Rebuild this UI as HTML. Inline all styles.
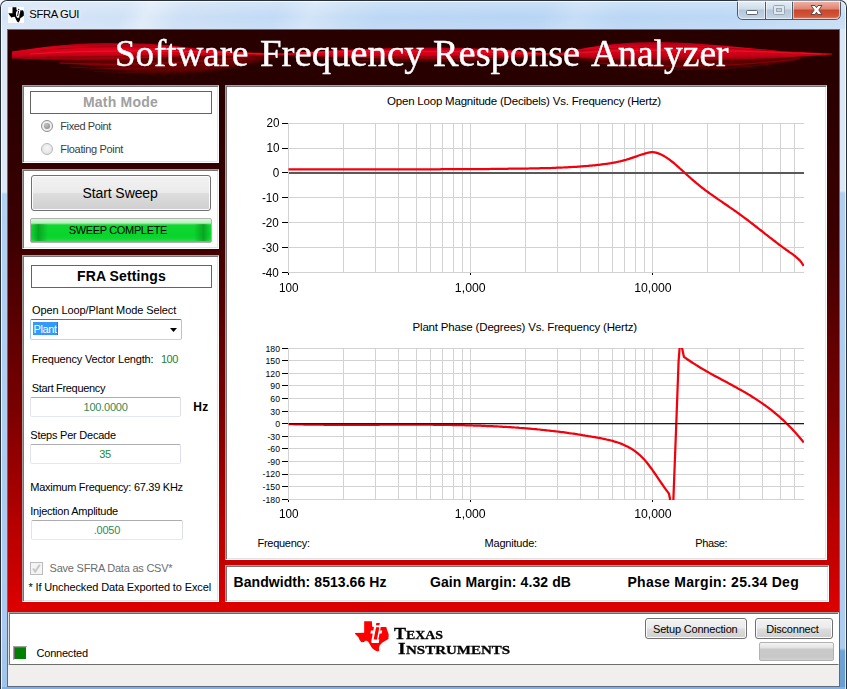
<!DOCTYPE html>
<html>
<head>
<meta charset="utf-8">
<title>SFRA GUI</title>
<style>
html,body{margin:0;padding:0;}
body{width:847px;height:689px;overflow:hidden;position:relative;background:#f4f6f9;font-family:"Liberation Sans",sans-serif;font-size:11px;color:#000;}
.abs{position:absolute;}
.lbl{position:absolute;white-space:nowrap;}
#win{position:absolute;left:0;top:0;width:845px;height:688px;border:1px solid #27313d;border-bottom:none;border-radius:7px 7px 0 0;overflow:hidden;
 background:linear-gradient(180deg,rgba(255,255,255,.28) 0,rgba(255,255,255,.1) 10px,rgba(255,255,255,0) 16px,rgba(255,255,255,.1) 29px,rgba(255,255,255,0) 30px),
 linear-gradient(115deg,rgba(255,255,255,0) 0,rgba(255,255,255,0) 11%,rgba(255,255,255,.35) 13%,rgba(255,255,255,0) 16%,rgba(255,255,255,0) 24%,rgba(255,255,255,.3) 27%,rgba(255,255,255,.12) 30%,rgba(255,255,255,0) 33%,rgba(255,255,255,0) 47%,rgba(255,255,255,.18) 50%,rgba(255,255,255,0) 54%,rgba(255,255,255,0) 100%),
 linear-gradient(90deg,#d6e5f6 0,#cfe1f6 18%,#bfd9f5 36%,#b8d5f4 60%,#bcd8f5 85%,#c8def6 100%);}
#winin{position:absolute;left:0;top:0;right:0;bottom:-4px;border:1px solid rgba(255,255,255,.75);border-radius:6px 6px 0 0;z-index:2;}
#fl{position:absolute;left:0;top:28px;width:7px;height:660px;background:linear-gradient(180deg,#dde9f7 0,#dde9f7 163px,#b3d1f1 165px,#aacbef 600px,#9fc3ea 100%);}
#fr{position:absolute;right:0;top:28px;width:7px;height:660px;background:linear-gradient(180deg,#d9e7f7 0,#d9e7f7 162px,#b0cff2 164px,#abccf0 619px,#6fa3d6 622px,#6a9fd3 100%);}
#fb{position:absolute;left:0;bottom:0;width:845px;height:2px;background:#7fb0e0;}
#clientb{position:absolute;left:7px;top:29px;width:833px;height:658px;box-sizing:border-box;border:1px solid #5e6b7a;}
#client{position:absolute;left:8px;top:30px;width:831px;height:656px;overflow:hidden;
 background:linear-gradient(180deg,#290000 0,#290000 50px,#3a0000 200px,#7a0000 380px,#b90000 500px,#c40000 530px,#dd0000 578px,#dd0000 100%);}
.panel{position:absolute;background:#fff;box-sizing:border-box;border-style:solid;border-width:2px 1px 1px 2px;border-color:#a0a0a0 #fff #fff #a0a0a0;}
.panel:before{content:"";position:absolute;left:-1px;top:-1px;right:0;bottom:0;border-left:1px solid #767676;border-top:1px solid #767676;}
.panel:after{content:"";position:absolute;left:0;top:0;right:0;bottom:0;border-right:1px solid #e3e3e3;border-bottom:1px solid #e3e3e3;}
.hdr{position:absolute;border:1px solid #646464;box-sizing:border-box;background:#fff;}
.tb{position:absolute;box-sizing:border-box;border:1px solid #e3e9ef;border-top-color:#abadb3;border-left-color:#e2e3ea;border-right-color:#dbdfe6;border-radius:2px;background:#fff;}
.radio{position:absolute;width:12px;height:12px;border-radius:50%;box-sizing:border-box;border:1px solid #b8b8b8;background:radial-gradient(circle at 50% 40%,#f6f6f6 0,#dedede 100%);}
.radio.on{border-color:#8e8e8e;background:#efefef;}
.radio.on:after{content:"";position:absolute;left:2px;top:2px;width:6px;height:6px;border-radius:50%;background:radial-gradient(circle at 40% 35%,#c4c4c4 0,#8c8c8c 80%);}
.btn{position:absolute;box-sizing:border-box;border:1px solid #707070;border-radius:3px;
 background:linear-gradient(180deg,#f2f2f2 0,#ebebeb 48%,#dddddd 52%,#cfcfcf 100%);box-shadow:inset 0 0 0 1px #fcfcfc;}
#prog{position:absolute;box-sizing:border-box;border:1px solid #b2b2b2;border-radius:2px;overflow:hidden;
 background:linear-gradient(180deg,#d9f8db 0,#b4f1b8 4px,#12d632 6px,#08d42c 16px,#14d636 20px,#3fe05a 100%);}
#prog:before{content:"";position:absolute;left:1px;top:5px;bottom:1px;width:16px;background:linear-gradient(90deg,rgba(0,120,20,0),rgba(0,120,20,.5) 40%,rgba(0,120,20,0));}
#prog:after{content:"";position:absolute;right:1px;top:5px;bottom:1px;width:16px;background:linear-gradient(270deg,rgba(0,120,20,0),rgba(0,120,20,.5) 40%,rgba(0,120,20,0));}
#combo{position:absolute;box-sizing:border-box;border:1px solid #a4c9e3;border-top-color:#3d7bad;border-bottom-color:#b7d9ed;border-radius:2px;background:#fff;}
#combo b{position:absolute;left:2px;top:2px;width:24px;height:13px;background:#3399ff;border-right:1px solid #a05a10;}
#combo i{position:absolute;left:139px;top:8px;width:7px;height:4px;background:#000;clip-path:polygon(0 0,100% 0,50% 100%);}
#chk{position:absolute;width:13px;height:13px;box-sizing:border-box;border:1px solid #bcbcbc;background:#f4f4f4;}
#chk svg{position:absolute;left:-1px;top:-1px;}
#botp{position:absolute;left:8px;top:612px;width:831px;height:53px;box-sizing:border-box;background:#fff;border-style:solid;border-width:2px 1px 1px 2px;border-color:#a0a0a0 #fff #6e6e6e #e0e0e0;}
#botp:before{content:"";position:absolute;left:-1px;top:-1px;right:0;bottom:0;border-left:1px solid #7a7a7a;border-top:1px solid #696969;}
#stat{position:absolute;left:8px;top:665px;width:831px;height:21px;background:#f1eeee;}
.btn2{position:absolute;box-sizing:border-box;border:1px solid #707070;border-radius:3px;
 background:linear-gradient(180deg,#f2f2f2 0,#ebebeb 48%,#dddddd 52%,#cfcfcf 100%);box-shadow:inset 0 0 0 1px #fcfcfc;}
#gbar{position:absolute;box-sizing:border-box;border:1px solid #b2b2b2;border-radius:2px;background:linear-gradient(180deg,#f4f4f4 0,#e2e2e2 5px,#cacaca 6px,#c8c8c8 14px,#d2d2d2 100%);}
#led{position:absolute;box-sizing:border-box;border-style:solid;border-width:2px 1px 1px 2px;border-color:#a0a0a0 #fff #fff #a0a0a0;background:#008000;}
#led:before{content:"";position:absolute;left:-1px;top:-1px;right:0;bottom:0;border-left:1px solid #696969;border-top:1px solid #696969;}
</style>
</head>
<body>
<div id="win"><div id="fl"></div><div id="fr"></div><div id="fb"></div><div id="winin"></div></div>
<svg class="abs" style="left:8px;top:7px" width="16" height="16" viewBox="0 0 16 16"><rect width="16" height="16" fill="#fff"/><path d="M4.5,0.3 L8.3,0.3 L8.6,3.2 L12.5,3.4 L15,3.2 L15.8,5 L15.9,8.5 L14.2,10 L12.4,11 L11.8,13.5 L10.6,15.6 L9,14.5 L7.8,12 L6.8,9.8 L5,10 L3.4,10.6 L2.2,9 L0.3,6.3 L4.5,6.2 Z" fill="#000"/><path d="M8.3,4.8 L9.6,3.5 L10.2,1.5 L11.5,1.5 L12.3,4.8 L11.5,7.5 L11.2,10.4 L9.6,11.1 L8.3,9.6 L7.9,6.5 Z" fill="#fff"/><circle cx="10.75" cy="2.45" r="0.62" fill="#000"/><path d="M10.55,4.2 L9.65,8.7" stroke="#000" stroke-width="0.95" stroke-linecap="round"/></svg>
<div class="lbl" style="left:29.30px;top:7px;font-size:11.3px;line-height:14px;letter-spacing:-0.367px;text-shadow:0 0 5px #fff,0 0 8px #fff;">SFRA GUI</div>
<svg class="abs" style="left:730px;top:0" width="117" height="26" viewBox="730 0 117 26">
<defs>
<linearGradient id="cb1" x1="0" y1="0" x2="0" y2="1"><stop offset="0" stop-color="#e9f0f8"/><stop offset=".45" stop-color="#cfdcea"/><stop offset=".5" stop-color="#b4c6da"/><stop offset="1" stop-color="#c6d6e8"/></linearGradient>
<linearGradient id="cb2" x1="0" y1="0" x2="0" y2="1"><stop offset="0" stop-color="#f0b4a6"/><stop offset=".45" stop-color="#de8572"/><stop offset=".5" stop-color="#c8452c"/><stop offset=".85" stop-color="#d4553a"/><stop offset="1" stop-color="#e08a6a"/></linearGradient>
</defs>
<path d="M737.5,0.5 V14 Q737.5,19.5 743,19.5 H835 Q840.5,19.5 840.5,14 V0.5" fill="url(#cb1)" stroke="#4e5a68" stroke-width="1"/>
<path d="M793,1 H840 V14 Q840,19 835,19 H793 Z" fill="url(#cb2)"/>
<path d="M765.5,1 V19 M792.5,1 V19" stroke="#4e5a68" stroke-width="1"/>
<path d="M738.5,1 V14 Q738.5,18.5 743,18.5 H764.5 V1 M766.5,1V18.5H791.5V1 M793.5,1V18.5H835Q839.5,18.5 839.5,14V1" fill="none" stroke="#fff" stroke-opacity=".55"/>
<rect x="746.5" y="10.5" width="11" height="4" rx="1" fill="#fff" stroke="#5a6572"/>
<rect x="773.5" y="5.500" width="11" height="9" rx="1" fill="#dfe7f0" stroke="#9aa6b4"/><rect x="776.5" y="8.5" width="5" height="3" fill="#c2cfdd" stroke="#9aa6b4"/>
<path d="M811,5.5 L815,5.5 L816.5,7.7 L818,5.5 L822,5.5 L818.8,10 L822,14.5 L818,14.5 L816.5,12.3 L815,14.5 L811,14.5 L814.2,10 Z" fill="#fff" stroke="#5e4a48" stroke-width="1"/>
</svg>
<div id="clientb"></div><div id="client"></div>
<svg class="abs" style="left:8px;top:30px" width="831" height="56" viewBox="8 30 831 56">
<defs>
<linearGradient id="lg1" x1="0" y1="0" x2="0" y2="1"><stop offset="0" stop-color="#9c0010"/><stop offset=".3" stop-color="#e2001c"/><stop offset=".65" stop-color="#d00018"/><stop offset="1" stop-color="#8a000c"/></linearGradient>
<filter id="bl1" x="-10%" y="-50%" width="120%" height="200%"><feGaussianBlur stdDeviation="1.6"/></filter>
<filter id="bl0" x="-10%" y="-50%" width="120%" height="200%"><feGaussianBlur stdDeviation="0.6"/></filter>
</defs>
<g filter="url(#bl1)" fill="#6e0008">
<path d="M30,57 C80,62 120,74 170,73 C230,72 260,60 285,55 L200,52 Z" opacity=".8"/>
<path d="M290,55 C360,61 470,63 545,55 L420,52 Z" opacity=".55"/>
<path d="M560,56 C620,69 720,73 800,58 L700,52 Z" opacity=".75"/>
</g>
<g filter="url(#bl0)" fill="url(#lg1)">
<path d="M12,51.5 C40,47.5 70,43 105,43 C140,43 160,44 175,46 C200,49.5 230,52 285,54 L285,55 C240,56 200,56 171,56.8 C140,58.5 120,60 90,60 C60,60 30,59 12,58.5 Z"/>
<path d="M270,54 C330,50.5 380,47.5 430,47.5 C475,47.5 520,50.5 560,54 C520,57.5 475,59 430,59 C380,59 320,57 270,54 Z"/>
<path d="M555,54 C580,49 595,46 612,44.3 C630,42.3 650,41.6 665,42 C700,43 735,46.5 782,51.3 L832,53.6 L832,54.6 C800,57 780,58 734,59.8 C700,61 650,61 602,59.5 C585,58.3 570,56.5 555,54.6 Z"/>
</g>
<g fill="none" stroke-linecap="round" filter="url(#bl0)">
<path d="M40,50.5 C90,45.5 140,45.5 200,50" stroke="#7c000c" stroke-width="1" opacity=".55"/>
<path d="M30,54 C90,50 170,50 262,54" stroke="#ff2a3c" stroke-width="1.2" opacity=".45"/>
<path d="M40,57.5 C100,56 180,56 255,55" stroke="#70000a" stroke-width="1.2" opacity=".6"/>
<path d="M60,63 C120,66 190,63 250,57" stroke="#b00014" stroke-width="1.3" opacity=".6"/>
<path d="M70,67 C130,71 200,67 255,58" stroke="#8c0010" stroke-width="1.2" opacity=".55"/>
<path d="M95,71.5 C150,74 205,70 250,60" stroke="#6a000a" stroke-width="1.2" opacity=".5"/>
<path d="M300,53 C360,50.5 470,50.5 540,54" stroke="#ff2a3c" stroke-width="1" opacity=".4"/>
<path d="M300,55.5 C370,57.5 470,57.5 540,55" stroke="#70000a" stroke-width="1" opacity=".55"/>
<path d="M320,59 C380,62 470,62 530,57" stroke="#9a0010" stroke-width="1.2" opacity=".5"/>
<path d="M580,51 C640,44.5 720,46.5 800,53" stroke="#7c000c" stroke-width="1" opacity=".5"/>
<path d="M575,53 C640,48 730,50 820,54" stroke="#ff2a3c" stroke-width="1.2" opacity=".4"/>
<path d="M580,58.5 C650,61 740,61 810,56.5" stroke="#70000a" stroke-width="1.2" opacity=".55"/>
<path d="M600,63 C660,68 740,67 800,58.5" stroke="#a80012" stroke-width="1.3" opacity=".55"/>
<path d="M620,67 C680,72 750,69 795,60" stroke="#80000c" stroke-width="1.2" opacity=".5"/>
</g>
</svg>
<div class="lbl" style="left:115.20px;top:31px;font-size:38px;line-height:44px;color:#fff;font-family:'Liberation Serif',serif;-webkit-text-stroke:0.45px #fff;transform:scaleX(0.9731);transform-origin:0 50%;">Software</div>
<div class="lbl" style="left:260.00px;top:31px;font-size:38px;line-height:44px;color:#fff;font-family:'Liberation Serif',serif;-webkit-text-stroke:0.45px #fff;transform:scaleX(1.0194);transform-origin:0 50%;">Frequency</div>
<div class="lbl" style="left:432.50px;top:31px;font-size:38px;line-height:44px;color:#fff;font-family:'Liberation Serif',serif;-webkit-text-stroke:0.45px #fff;transform:scaleX(1.0099);transform-origin:0 50%;">Response</div>
<div class="lbl" style="left:590.70px;top:31px;font-size:38px;line-height:44px;color:#fff;font-family:'Liberation Serif',serif;-webkit-text-stroke:0.45px #fff;transform:scaleX(0.9880);transform-origin:0 50%;">Analyzer</div>
<div class="panel" style="left:22px;top:85px;width:197px;height:78px;"></div>
<div class="hdr" style="left:30px;top:91px;width:182px;height:23px;"></div>
<div class="lbl" style="left:82.90px;top:93px;font-size:14px;line-height:18px;font-weight:bold;color:#a0a0a0;letter-spacing:0.221px;">Math Mode</div>
<div class="radio on" style="left:41px;top:120px;"></div>
<div class="lbl" style="left:60.30px;top:119px;font-size:11px;line-height:14px;color:#3c3c3c;letter-spacing:-0.412px;">Fixed Point</div>
<div class="radio" style="left:41px;top:143px;"></div>
<div class="lbl" style="left:60.30px;top:142px;font-size:11px;line-height:14px;color:#3c3c3c;letter-spacing:-0.326px;">Floating Point</div>
<div class="panel" style="left:22px;top:169px;width:197px;height:80px;"></div>
<div class="btn" style="left:31px;top:175px;width:180px;height:36px;"></div>
<div class="lbl" style="left:82.40px;top:184px;font-size:14px;line-height:18px;letter-spacing:-0.079px;">Start Sweep</div>
<div id="prog" style="left:30px;top:218px;width:182px;height:25px;"></div>
<div class="lbl" style="left:68.80px;top:223px;font-size:11px;line-height:14px;letter-spacing:-0.351px;">SWEEP COMPLETE</div>
<div class="panel" style="left:22px;top:255px;width:197px;height:347px;"></div>
<div class="hdr" style="left:31px;top:265px;width:181px;height:23px;"></div>
<div class="lbl" style="left:77.00px;top:267px;font-size:14px;line-height:18px;font-weight:bold;letter-spacing:0.119px;">FRA Settings</div>
<div class="lbl" style="left:32.00px;top:303px;font-size:11px;line-height:14px;letter-spacing:-0.095px;">Open Loop/Plant Mode Select</div>
<div id="combo" style="left:30px;top:319px;width:152px;height:21px;"><b></b><i></i></div>
<div class="lbl" style="left:33.60px;top:322px;font-size:11px;line-height:14px;color:#fff;letter-spacing:-0.416px;">Plant</div>
<div class="lbl" style="left:31.80px;top:352px;font-size:11px;line-height:14px;letter-spacing:-0.182px;">Frequency Vector Length:</div>
<div class="lbl" style="left:161.00px;top:352px;font-size:11px;line-height:14px;color:#1f7f2f;letter-spacing:-0.520px;">100</div>
<div class="lbl" style="left:31.80px;top:381px;font-size:11px;line-height:14px;letter-spacing:-0.331px;">Start Frequency</div>
<div class="tb" style="left:30px;top:397px;width:151px;height:20px;"></div>
<div class="lbl" style="left:83.60px;top:400px;font-size:11px;line-height:14px;color:#2e8b57;letter-spacing:-0.236px;">100.0000</div>
<div class="lbl" style="left:193.30px;top:399px;font-size:12px;line-height:16px;font-weight:bold;letter-spacing:0.164px;">Hz</div>
<div class="lbl" style="left:30.30px;top:428px;font-size:11px;line-height:14px;letter-spacing:-0.236px;">Steps Per Decade</div>
<div class="tb" style="left:30px;top:444px;width:151px;height:20px;"></div>
<div class="lbl" style="left:99.30px;top:447px;font-size:11px;line-height:14px;color:#228b22;letter-spacing:-0.325px;">35</div>
<div class="lbl" style="left:30.30px;top:480px;font-size:11px;line-height:14px;letter-spacing:-0.274px;">Maximum Frequency: 67.39 KHz</div>
<div class="lbl" style="left:30.30px;top:504px;font-size:11px;line-height:14px;letter-spacing:-0.244px;">Injection Amplitude</div>
<div class="tb" style="left:31px;top:520px;width:152px;height:20px;"></div>
<div class="lbl" style="left:93.80px;top:523px;font-size:11px;line-height:14px;color:#2e8b57;letter-spacing:-0.266px;">.0050</div>
<div id="chk" style="left:30px;top:562px;"><svg width="13" height="13" viewBox="0 0 13 13"><path d="M3 6.5 L5.2 9.6 L9.8 2.8" fill="none" stroke="#c6c6c6" stroke-width="2"/></svg></div>
<div class="lbl" style="left:49.60px;top:561px;font-size:11px;line-height:14px;color:#6d6d6d;letter-spacing:-0.226px;">Save SFRA Data as CSV*</div>
<div class="lbl" style="left:28.40px;top:580px;font-size:11px;line-height:14px;letter-spacing:-0.122px;">* If Unchecked Data Exported to Excel</div>
<div class="panel" style="left:225px;top:85px;width:602px;height:475px;"></div>
<svg class="abs" style="left:0;top:0" width="847" height="689" viewBox="0 0 847 689" shape-rendering="crispEdges">
<path d="M288.5,123V273 M343.5,123V273 M375.5,123V273 M398.5,123V273 M416.5,123V273 M430.5,123V273 M442.5,123V273 M453.5,123V273 M462.5,123V273 M470.5,123V273 M525.5,123V273 M557.5,123V273 M580.5,123V273 M598.5,123V273 M612.5,123V273 M624.5,123V273 M635.5,123V273 M644.5,123V273 M652.5,123V273 M707.5,123V273 M739.5,123V273 M762.5,123V273 M780.5,123V273 M794.5,123V273 M288,123.5H804 M288,148.5H804 M288,172.5H804 M288,197.5H804 M288,222.5H804 M288,247.5H804 M288,272.5H804 " stroke="#d2d2d2" stroke-width="1" fill="none"/>
<path d="M282,123.5H288 M282,148.5H288 M282,172.5H288 M282,197.5H288 M282,222.5H288 M282,247.5H288 M282,272.5H288 M288.5,273V275 M470.5,273V275 M652.5,273V275 " stroke="#000" stroke-width="1" fill="none"/>
<rect x="289" y="172" width="515" height="2" fill="#595959"/>
<path d="M288.5,348V500 M343.5,348V500 M375.5,348V500 M398.5,348V500 M416.5,348V500 M430.5,348V500 M442.5,348V500 M453.5,348V500 M462.5,348V500 M470.5,348V500 M525.5,348V500 M557.5,348V500 M580.5,348V500 M598.5,348V500 M612.5,348V500 M624.5,348V500 M635.5,348V500 M644.5,348V500 M652.5,348V500 M707.5,348V500 M739.5,348V500 M762.5,348V500 M780.5,348V500 M794.5,348V500 M288,348.5H804 M288,360.5H804 M288,373.5H804 M288,385.5H804 M288,398.5H804 M288,411.5H804 M288,423.5H804 M288,436.5H804 M288,448.5H804 M288,461.5H804 M288,474.5H804 M288,486.5H804 M288,499.5H804 " stroke="#d2d2d2" stroke-width="1" fill="none"/>
<path d="M282,348.5H288 M282,360.5H288 M282,373.5H288 M282,385.5H288 M282,398.5H288 M282,411.5H288 M282,423.5H288 M282,436.5H288 M282,448.5H288 M282,461.5H288 M282,474.5H288 M282,486.5H288 M282,499.5H288 M288.5,500V502 M470.5,500V502 M652.5,500V502 " stroke="#000" stroke-width="1" fill="none"/>
<g shape-rendering="geometricPrecision" fill="none" stroke="#f4000c" stroke-width="2.25" stroke-linejoin="round" stroke-linecap="butt">
<clipPath id="cm"><rect x="288" y="123" width="516" height="150"/></clipPath><clipPath id="cp"><rect x="288" y="348" width="516" height="152"/></clipPath><path clip-path="url(#cm)" d="M288.5,169.3 L290.0,169.3 L291.5,169.3 L293.0,169.3 L294.5,169.3 L296.0,169.3 L297.5,169.3 L299.0,169.3 L300.5,169.3 L302.0,169.3 L303.5,169.3 L305.0,169.3 L306.5,169.3 L308.0,169.3 L309.5,169.3 L311.0,169.3 L312.5,169.3 L314.0,169.3 L315.5,169.3 L317.0,169.3 L318.5,169.3 L320.0,169.3 L321.5,169.3 L323.0,169.3 L324.5,169.3 L326.0,169.3 L327.5,169.3 L329.0,169.3 L330.5,169.3 L332.0,169.3 L333.5,169.3 L335.0,169.3 L336.5,169.3 L338.0,169.3 L339.5,169.3 L341.0,169.3 L342.5,169.3 L344.0,169.3 L345.5,169.3 L347.0,169.3 L348.5,169.3 L350.0,169.3 L351.5,169.3 L353.0,169.3 L354.5,169.3 L356.0,169.3 L357.5,169.3 L359.0,169.3 L360.5,169.3 L362.0,169.3 L363.5,169.3 L365.0,169.3 L366.5,169.3 L368.0,169.3 L369.5,169.3 L371.0,169.3 L372.5,169.3 L374.0,169.3 L375.5,169.3 L377.0,169.3 L378.5,169.3 L380.0,169.3 L381.5,169.3 L383.0,169.3 L384.5,169.3 L386.0,169.3 L387.5,169.3 L389.0,169.3 L390.5,169.3 L392.0,169.3 L393.5,169.3 L395.0,169.3 L396.5,169.3 L398.0,169.3 L399.5,169.3 L401.0,169.3 L402.5,169.3 L404.0,169.3 L405.5,169.3 L407.0,169.3 L408.5,169.3 L410.0,169.3 L411.5,169.3 L413.0,169.3 L414.5,169.3 L416.0,169.3 L417.5,169.3 L419.0,169.3 L420.5,169.3 L422.0,169.3 L423.5,169.3 L425.0,169.3 L426.5,169.3 L428.0,169.3 L429.5,169.3 L431.0,169.3 L432.5,169.3 L434.0,169.3 L435.5,169.3 L437.0,169.3 L438.5,169.3 L440.0,169.3 L441.5,169.2 L443.0,169.2 L444.5,169.2 L446.0,169.2 L447.5,169.2 L449.0,169.2 L450.5,169.2 L452.0,169.2 L453.5,169.2 L455.0,169.2 L456.5,169.2 L458.0,169.2 L459.5,169.2 L461.0,169.2 L462.5,169.2 L464.0,169.1 L465.5,169.1 L467.0,169.1 L468.5,169.1 L470.0,169.1 L471.5,169.1 L473.0,169.1 L474.5,169.1 L476.0,169.1 L477.5,169.1 L479.0,169.0 L480.5,169.0 L482.0,169.0 L483.5,169.0 L485.0,169.0 L486.5,169.0 L488.0,169.0 L489.5,169.0 L491.0,168.9 L492.5,168.9 L494.0,168.9 L495.5,168.9 L497.0,168.9 L498.5,168.9 L500.0,168.8 L501.5,168.8 L503.0,168.8 L504.5,168.8 L506.0,168.8 L507.5,168.8 L509.0,168.7 L510.5,168.7 L512.0,168.7 L513.5,168.7 L515.0,168.7 L516.5,168.6 L518.0,168.6 L519.5,168.6 L521.0,168.6 L522.5,168.6 L524.0,168.5 L525.5,168.5 L527.0,168.5 L528.5,168.5 L530.0,168.4 L531.5,168.4 L533.0,168.4 L534.5,168.4 L536.0,168.3 L537.5,168.3 L539.0,168.3 L540.5,168.2 L542.0,168.2 L543.5,168.2 L545.0,168.1 L546.5,168.1 L548.0,168.0 L549.5,168.0 L551.0,168.0 L552.5,167.9 L554.0,167.9 L555.5,167.8 L557.0,167.7 L558.5,167.7 L560.0,167.6 L561.5,167.6 L563.0,167.5 L564.5,167.4 L566.0,167.4 L567.5,167.3 L569.0,167.2 L570.5,167.1 L572.0,167.0 L573.5,166.9 L575.0,166.9 L576.5,166.8 L578.0,166.7 L579.5,166.6 L581.0,166.4 L582.5,166.3 L584.0,166.2 L585.5,166.1 L587.0,166.0 L588.5,165.8 L590.0,165.7 L591.5,165.6 L593.0,165.4 L594.5,165.3 L596.0,165.1 L597.5,164.9 L599.0,164.8 L600.5,164.6 L602.0,164.4 L603.5,164.2 L605.0,164.0 L606.5,163.8 L608.0,163.6 L609.5,163.4 L611.0,163.2 L612.5,162.9 L614.0,162.6 L615.5,162.3 L617.0,162.0 L618.5,161.7 L620.0,161.4 L621.5,161.0 L623.0,160.6 L624.5,160.2 L626.0,159.8 L627.5,159.3 L629.0,158.9 L630.5,158.4 L632.0,157.9 L633.5,157.4 L635.0,156.9 L636.5,156.4 L638.0,155.8 L639.5,155.3 L641.0,154.8 L642.5,154.3 L644.0,153.9 L645.5,153.4 L647.0,153.0 L648.5,152.6 L650.0,152.3 L651.5,152.2 L653.0,152.2 L654.5,152.3 L656.0,152.6 L657.5,153.1 L659.0,153.6 L660.5,154.2 L662.0,154.9 L663.5,155.7 L665.0,156.6 L666.5,157.6 L668.0,158.6 L669.5,159.7 L671.0,160.8 L672.5,162.0 L674.0,163.2 L675.5,164.5 L677.0,165.8 L678.5,167.1 L680.0,168.5 L681.5,169.8 L683.0,171.2 L684.5,172.6 L686.0,174.0 L687.5,175.3 L689.0,176.7 L690.5,178.0 L692.0,179.4 L693.5,180.7 L695.0,181.9 L696.5,183.2 L698.0,184.4 L699.5,185.6 L701.0,186.8 L702.5,188.0 L704.0,189.1 L705.5,190.3 L707.0,191.4 L708.5,192.5 L710.0,193.6 L711.5,194.6 L713.0,195.7 L714.5,196.8 L716.0,197.8 L717.5,198.9 L719.0,199.9 L720.5,200.9 L722.0,201.9 L723.5,203.0 L725.0,204.0 L726.5,205.0 L728.0,206.0 L729.5,207.1 L731.0,208.1 L732.5,209.1 L734.0,210.2 L735.5,211.2 L737.0,212.3 L738.5,213.4 L740.0,214.5 L741.5,215.6 L743.0,216.7 L744.5,217.8 L746.0,218.9 L747.5,220.0 L749.0,221.2 L750.5,222.3 L752.0,223.5 L753.5,224.7 L755.0,225.8 L756.5,227.0 L758.0,228.2 L759.5,229.3 L761.0,230.5 L762.5,231.7 L764.0,232.9 L765.5,234.1 L767.0,235.2 L768.5,236.4 L770.0,237.6 L771.5,238.7 L773.0,239.9 L774.5,241.0 L776.0,242.2 L777.5,243.3 L779.0,244.5 L780.5,245.6 L782.0,246.7 L783.5,247.8 L785.0,248.9 L786.5,250.0 L788.0,251.0 L789.5,252.1 L791.0,253.1 L792.5,254.2 L794.0,255.3 L795.5,256.5 L797.0,257.8 L798.5,259.1 L800.0,260.6 L801.5,262.5 L803.0,264.8 L803.6,266.0"/>
<path clip-path="url(#cp)" d="M288.5,424.1 L290.0,424.2 L291.5,424.2 L293.0,424.2 L294.5,424.3 L296.0,424.3 L297.5,424.4 L299.0,424.4 L300.5,424.4 L302.0,424.4 L303.5,424.5 L305.0,424.5 L306.5,424.5 L308.0,424.6 L309.5,424.6 L311.0,424.6 L312.5,424.6 L314.0,424.6 L315.5,424.7 L317.0,424.7 L318.5,424.7 L320.0,424.7 L321.5,424.7 L323.0,424.7 L324.5,424.8 L326.0,424.8 L327.5,424.8 L329.0,424.8 L330.5,424.8 L332.0,424.8 L333.5,424.8 L335.0,424.8 L336.5,424.8 L338.0,424.8 L339.5,424.8 L341.0,424.8 L342.5,424.8 L344.0,424.8 L345.5,424.8 L347.0,424.8 L348.5,424.8 L350.0,424.8 L351.5,424.8 L353.0,424.8 L354.5,424.8 L356.0,424.8 L357.5,424.8 L359.0,424.8 L360.5,424.8 L362.0,424.8 L363.5,424.8 L365.0,424.8 L366.5,424.8 L368.0,424.8 L369.5,424.8 L371.0,424.8 L372.5,424.8 L374.0,424.8 L375.5,424.8 L377.0,424.8 L378.5,424.8 L380.0,424.7 L381.5,424.7 L383.0,424.7 L384.5,424.7 L386.0,424.7 L387.5,424.7 L389.0,424.7 L390.5,424.7 L392.0,424.7 L393.5,424.7 L395.0,424.7 L396.5,424.7 L398.0,424.7 L399.5,424.7 L401.0,424.7 L402.5,424.7 L404.0,424.7 L405.5,424.7 L407.0,424.7 L408.5,424.7 L410.0,424.7 L411.5,424.7 L413.0,424.7 L414.5,424.7 L416.0,424.7 L417.5,424.7 L419.0,424.7 L420.5,424.7 L422.0,424.7 L423.5,424.7 L425.0,424.7 L426.5,424.7 L428.0,424.7 L429.5,424.7 L431.0,424.7 L432.5,424.7 L434.0,424.8 L435.5,424.8 L437.0,424.8 L438.5,424.8 L440.0,424.8 L441.5,424.8 L443.0,424.8 L444.5,424.9 L446.0,424.9 L447.5,424.9 L449.0,424.9 L450.5,424.9 L452.0,425.0 L453.5,425.0 L455.0,425.0 L456.5,425.1 L458.0,425.1 L459.5,425.1 L461.0,425.2 L462.5,425.2 L464.0,425.2 L465.5,425.3 L467.0,425.3 L468.5,425.3 L470.0,425.4 L471.5,425.4 L473.0,425.5 L474.5,425.5 L476.0,425.6 L477.5,425.6 L479.0,425.7 L480.5,425.7 L482.0,425.8 L483.5,425.8 L485.0,425.9 L486.5,426.0 L488.0,426.0 L489.5,426.1 L491.0,426.2 L492.5,426.2 L494.0,426.3 L495.5,426.4 L497.0,426.4 L498.5,426.5 L500.0,426.6 L501.5,426.7 L503.0,426.8 L504.5,426.9 L506.0,426.9 L507.5,427.0 L509.0,427.1 L510.5,427.2 L512.0,427.3 L513.5,427.4 L515.0,427.5 L516.5,427.6 L518.0,427.7 L519.5,427.9 L521.0,428.0 L522.5,428.1 L524.0,428.2 L525.5,428.3 L527.0,428.4 L528.5,428.6 L530.0,428.7 L531.5,428.8 L533.0,429.0 L534.5,429.1 L536.0,429.2 L537.5,429.4 L539.0,429.5 L540.5,429.7 L542.0,429.8 L543.5,430.0 L545.0,430.1 L546.5,430.3 L548.0,430.5 L549.5,430.6 L551.0,430.8 L552.5,431.0 L554.0,431.1 L555.5,431.3 L557.0,431.5 L558.5,431.7 L560.0,431.9 L561.5,432.1 L563.0,432.2 L564.5,432.4 L566.0,432.6 L567.5,432.8 L569.0,433.1 L570.5,433.3 L572.0,433.5 L573.5,433.7 L575.0,433.9 L576.5,434.1 L578.0,434.4 L579.5,434.6 L581.0,434.8 L582.5,435.1 L584.0,435.3 L585.5,435.6 L587.0,435.8 L588.5,436.1 L590.0,436.3 L591.5,436.6 L593.0,436.8 L594.5,437.1 L596.0,437.4 L597.5,437.7 L599.0,437.9 L600.5,438.2 L602.0,438.5 L603.5,438.8 L605.0,439.1 L606.5,439.5 L608.0,439.8 L609.5,440.2 L611.0,440.5 L612.5,440.9 L614.0,441.4 L615.5,441.8 L617.0,442.3 L618.5,442.8 L620.0,443.3 L621.5,443.9 L623.0,444.5 L624.5,445.2 L626.0,445.9 L627.5,446.6 L629.0,447.4 L630.5,448.2 L632.0,449.1 L633.5,450.1 L635.0,451.2 L636.5,452.3 L638.0,453.5 L639.5,454.8 L641.0,456.2 L642.5,457.7 L644.0,459.3 L645.5,461.0 L647.0,462.8 L648.5,464.7 L650.0,466.7 L651.5,468.7 L653.0,470.8 L654.5,473.0 L656.0,475.2 L657.5,477.4 L659.0,479.6 L660.5,481.8 L662.0,484.0 L663.5,486.2 L665.0,488.3 L666.5,490.4 L668.0,492.4 L669.0,493.7 L670.0,499.0 L670.6,505.0 L673.2,505.0 L673.4,499.0 L676.3,423.2 L678.6,361.0 L679.6,348.3 L680.0,340.0 L681.8,340.0 L682.1,348.3 L683.9,356.8 L685.4,357.9 L686.9,359.0 L688.4,360.0 L689.9,361.0 L691.4,362.0 L692.9,363.0 L694.4,363.9 L695.9,364.9 L697.4,365.8 L698.9,366.8 L700.4,367.7 L701.9,368.6 L703.4,369.4 L704.9,370.3 L706.4,371.2 L707.9,372.0 L709.4,372.9 L710.9,373.7 L712.4,374.6 L713.9,375.4 L715.4,376.2 L716.9,377.0 L718.4,377.8 L719.9,378.6 L721.4,379.4 L722.9,380.2 L724.4,381.0 L725.9,381.8 L727.4,382.6 L728.9,383.5 L730.4,384.3 L731.9,385.1 L733.4,385.9 L734.9,386.7 L736.4,387.5 L737.9,388.4 L739.4,389.2 L740.9,390.0 L742.4,390.9 L743.9,391.8 L745.4,392.6 L746.9,393.5 L748.4,394.4 L749.9,395.3 L751.4,396.2 L752.9,397.2 L754.4,398.1 L755.9,399.1 L757.4,400.1 L758.9,401.1 L760.4,402.1 L761.9,403.1 L763.4,404.2 L764.9,405.2 L766.4,406.3 L767.9,407.4 L769.4,408.6 L770.9,409.7 L772.4,410.9 L773.9,412.1 L775.4,413.4 L776.9,414.6 L778.4,415.9 L779.9,417.2 L781.4,418.6 L782.9,419.9 L784.4,421.3 L785.9,422.8 L787.4,424.2 L788.9,425.7 L790.4,427.3 L791.9,428.8 L793.4,430.4 L794.9,432.1 L796.4,433.7 L797.9,435.4 L799.4,437.2 L800.9,439.0 L802.4,440.8 L803.8,442.5"/>
</g>
<rect x="289" y="423" width="515" height="1" fill="#1c1c1c"/><rect x="289" y="424" width="515" height="1" fill="#000" fill-opacity=".25"/>
</svg>
<div class="lbl" style="left:264.53px;top:114px;font-size:13px;line-height:17px;transform:scaleX(0.9000);transform-origin:100% 50%;">20</div>
<div class="lbl" style="left:264.53px;top:139px;font-size:13px;line-height:17px;transform:scaleX(0.9000);transform-origin:100% 50%;">10</div>
<div class="lbl" style="left:271.77px;top:164px;font-size:13px;line-height:17px;transform:scaleX(0.9000);transform-origin:100% 50%;">0</div>
<div class="lbl" style="left:260.20px;top:189px;font-size:13px;line-height:17px;transform:scaleX(0.9000);transform-origin:100% 50%;">-10</div>
<div class="lbl" style="left:260.20px;top:214px;font-size:13px;line-height:17px;transform:scaleX(0.9000);transform-origin:100% 50%;">-20</div>
<div class="lbl" style="left:260.20px;top:239px;font-size:13px;line-height:17px;transform:scaleX(0.9000);transform-origin:100% 50%;">-30</div>
<div class="lbl" style="left:260.20px;top:264px;font-size:13px;line-height:17px;transform:scaleX(0.9000);transform-origin:100% 50%;">-40</div>
<div class="lbl" style="left:265.50px;top:343px;font-size:8.7px;line-height:12px;">180</div>
<div class="lbl" style="left:265.50px;top:355px;font-size:8.7px;line-height:12px;">150</div>
<div class="lbl" style="left:265.50px;top:368px;font-size:8.7px;line-height:12px;">120</div>
<div class="lbl" style="left:270.33px;top:380px;font-size:8.7px;line-height:12px;">90</div>
<div class="lbl" style="left:270.33px;top:393px;font-size:8.7px;line-height:12px;">60</div>
<div class="lbl" style="left:270.33px;top:406px;font-size:8.7px;line-height:12px;">30</div>
<div class="lbl" style="left:275.16px;top:418px;font-size:8.7px;line-height:12px;">0</div>
<div class="lbl" style="left:267.44px;top:431px;font-size:8.7px;line-height:12px;">-30</div>
<div class="lbl" style="left:267.44px;top:443px;font-size:8.7px;line-height:12px;">-60</div>
<div class="lbl" style="left:267.44px;top:456px;font-size:8.7px;line-height:12px;">-90</div>
<div class="lbl" style="left:262.61px;top:468px;font-size:8.7px;line-height:12px;">-120</div>
<div class="lbl" style="left:262.61px;top:481px;font-size:8.7px;line-height:12px;">-150</div>
<div class="lbl" style="left:262.61px;top:494px;font-size:8.7px;line-height:12px;">-180</div>
<div class="lbl" style="left:278.35px;top:279px;font-size:13px;line-height:17px;transform:scaleX(0.9031);transform-origin:50% 50%;">100</div>
<div class="lbl" style="left:454.23px;top:279px;font-size:13px;line-height:17px;transform:scaleX(0.9463);transform-origin:50% 50%;">1,000</div>
<div class="lbl" style="left:633.12px;top:279px;font-size:13px;line-height:17px;transform:scaleX(0.9430);transform-origin:50% 50%;">10,000</div>
<div class="lbl" style="left:278.35px;top:505px;font-size:13px;line-height:17px;transform:scaleX(0.9031);transform-origin:50% 50%;">100</div>
<div class="lbl" style="left:454.23px;top:505px;font-size:13px;line-height:17px;transform:scaleX(0.9463);transform-origin:50% 50%;">1,000</div>
<div class="lbl" style="left:633.12px;top:505px;font-size:13px;line-height:17px;transform:scaleX(0.9430);transform-origin:50% 50%;">10,000</div>
<div class="lbl" style="left:387.00px;top:94px;font-size:11.5px;line-height:14px;letter-spacing:-0.201px;">Open Loop Magnitude (Decibels) Vs. Frequency (Hertz)</div>
<div class="lbl" style="left:412.50px;top:320px;font-size:11.5px;line-height:14px;letter-spacing:-0.175px;">Plant Phase (Degrees) Vs. Frequency (Hertz)</div>
<div class="lbl" style="left:257.50px;top:536px;font-size:11px;line-height:14px;letter-spacing:-0.273px;">Frequency:</div>
<div class="lbl" style="left:484.50px;top:536px;font-size:11px;line-height:14px;letter-spacing:-0.194px;">Magnitude:</div>
<div class="lbl" style="left:695.30px;top:536px;font-size:11px;line-height:14px;letter-spacing:-0.375px;">Phase:</div>
<div class="panel" style="left:225px;top:565px;width:604px;height:37px;"></div>
<div class="lbl" style="left:233.50px;top:573px;font-size:14px;line-height:18px;font-weight:bold;letter-spacing:0.062px;">Bandwidth: 8513.66 Hz</div>
<div class="lbl" style="left:430.00px;top:573px;font-size:14px;line-height:18px;font-weight:bold;letter-spacing:0.087px;">Gain Margin: 4.32 dB</div>
<div class="lbl" style="left:627.50px;top:573px;font-size:14px;line-height:18px;font-weight:bold;letter-spacing:0.285px;">Phase Margin: 25.34 Deg</div>
<div id="botp"></div><div id="stat"></div>
<div id="led" style="left:13px;top:646px;width:14px;height:14px;"></div>
<div class="lbl" style="left:36.50px;top:646px;font-size:11px;line-height:14px;letter-spacing:-0.213px;">Connected</div>
<div class="btn2" style="left:645px;top:618px;width:102px;height:21px;"></div>
<div class="lbl" style="left:653.00px;top:622px;font-size:11px;line-height:14px;letter-spacing:-0.185px;">Setup Connection</div>
<div class="btn2" style="left:755px;top:618px;width:78px;height:21px;"></div>
<div class="lbl" style="left:766.20px;top:622px;font-size:11px;line-height:14px;letter-spacing:-0.192px;">Disconnect</div>
<div id="gbar" style="left:759px;top:642px;width:75px;height:19px;"></div>
<svg class="abs" style="left:350px;top:615px" width="45" height="45" viewBox="350 615 45 45"><path d="M364.17,621.31 L371.84,621.31 L372.20,626.74 L374.79,626.98 L386.30,626.92 L387.01,629.70 L388.67,634.30 L388.43,638.90 L385.42,640.79 L382.17,642.86 L379.63,645.52 L378.93,648.17 L379.28,650.71 L377.74,651.42 L374.79,650.24 L371.96,647.88 L369.78,644.34 L368.00,641.38 L365.94,640.50 L363.46,642.27 L361.22,641.97 L359.45,639.73 L358.74,637.72 L354.96,633.71 L355.08,633.06 L364.17,632.82 Z" fill="#fe0000"/><path d="M373.91,626.98 L380.70,626.98 L380.11,630.52 L382.23,630.52 L381.64,633.47 L379.52,633.47 L378.39,639.61 L379.28,639.61 L378.69,642.92 L371.61,642.92 L371.25,641.38 L372.73,633.47 L370.37,633.47 L370.96,630.52 L373.38,630.52 Z" fill="#fff"/><path d="M376.39,623.08 L379.87,623.08 L379.28,625.21 L375.86,625.21 Z M376.09,627.22 L379.34,627.22 L376.92,639.38 L373.61,639.38 Z" fill="#fe0000"/></svg>
<div class="lbl" style="left:393.70px;top:622px;font-size:17.4px;line-height:22px;font-weight:bold;font-family:'Liberation Serif',serif;transform:scaleX(1.0371);transform-origin:0 50%;-webkit-text-stroke:0.3px #000;">T</div>
<div class="lbl" style="left:405.74px;top:626px;font-size:13.4px;line-height:17px;font-weight:bold;font-family:'Liberation Serif',serif;transform:scaleX(1.0371);transform-origin:0 50%;-webkit-text-stroke:0.3px #000;">EXAS</div>
<div class="lbl" style="left:398.10px;top:637px;font-size:17.4px;line-height:22px;font-weight:bold;font-family:'Liberation Serif',serif;transform:scaleX(1.1193);transform-origin:0 50%;-webkit-text-stroke:0.3px #000;">I</div>
<div class="lbl" style="left:405.69px;top:641px;font-size:13.4px;line-height:17px;font-weight:bold;font-family:'Liberation Serif',serif;transform:scaleX(1.1193);transform-origin:0 50%;-webkit-text-stroke:0.3px #000;">NSTRUMENTS</div>
</body>
</html>
